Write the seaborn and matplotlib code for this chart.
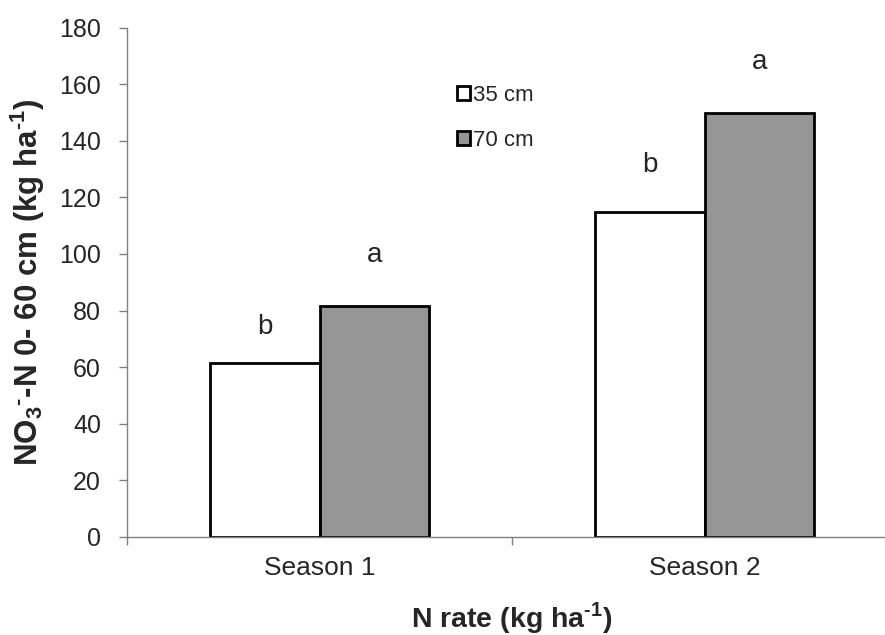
import numpy as np
import pandas as pd
import matplotlib
matplotlib.use("Agg")
import matplotlib.pyplot as plt
import seaborn as sns

seasons = ["Season 1", "Season 2"]
depths = ["35 cm", "70 cm"]
nitrate_35 = [61.5, 114.8]
nitrate_70 = [81.6, 149.8]
letters_35 = ["b", "b"]
letters_70 = ["a", "a"]
letter_y_35 = [74.2, 131.4]
letter_y_70 = [99.6, 167.8]

df = pd.DataFrame({
    "season": seasons * 2,
    "depth": [depths[0]] * 2 + [depths[1]] * 2,
    "value": nitrate_35 + nitrate_70,
})

sns.set_style("white")
plt.rcParams["font.family"] = ["Liberation Sans", "DejaVu Sans"]
# math text only used in the bold axis labels
plt.rcParams["mathtext.fontset"] = "custom"
plt.rcParams["mathtext.rm"] = "Liberation Sans:bold"
plt.rcParams["mathtext.bf"] = "Liberation Sans:bold"

fig = plt.figure(figsize=(8.85, 6.35), dpi=100)
ax = fig.add_axes([127 / 885, 98 / 635, 770 / 885, 509.5 / 635])

bar_width = 0.57
sns.barplot(data=df, x="season", y="value", hue="depth",
            palette={"35 cm": "white", "70 cm": "#969696"},
            edgecolor="black", linewidth=2, width=bar_width, ax=ax)

# significance letters
offset = bar_width / 4
for i in range(len(seasons)):
    ax.text(i - offset, letter_y_35[i], letters_35[i], ha="center", va="center", fontsize=20)
    ax.text(i + offset, letter_y_70[i], letters_70[i], ha="center", va="center", fontsize=20)

ax.set_xlim(-0.5, 1.5)
ax.set_ylim(0, 180)
ax.set_yticks(np.arange(0, 181, 20))
ax.tick_params(axis="y", labelsize=18, length=5.8, width=1, color="#808080", pad=13, left=True)

ax.set_xticks([-0.5, 0.5, 1.5])
ax.set_xticklabels(["", "", ""])
ax.set_xticks([0, 1], minor=True)
ax.set_xticklabels(seasons, minor=True)
ax.tick_params(axis="x", which="major", length=5.8, width=1, color="#808080", bottom=True)
ax.tick_params(axis="x", which="minor", length=0, labelsize=19, pad=14)

for side in ["top", "right"]:
    ax.spines[side].set_visible(False)
for side in ["left", "bottom"]:
    ax.spines[side].set_color("#808080")
    ax.spines[side].set_linewidth(1)

ax.set_xlabel(r"N rate (kg ha$^{\text{-1}}$)", fontsize=20.5, fontweight="bold", labelpad=14)
ax.set_ylabel(r"NO$_{\text{3}}$$^{\text{-}}$-N 0- 60 cm (kg ha$^{\text{-1}}$)", fontsize=22.5,
              fontweight="bold", labelpad=9)

handles, labels = ax.get_legend_handles_labels()
ax.legend(handles, labels, loc="upper left", bbox_to_anchor=(0.428, 0.887), frameon=False,
          fontsize=16, handlelength=0.6, handleheight=0.6, handletextpad=0.15,
          labelspacing=1.08, borderpad=0, borderaxespad=0)

fig.savefig("out.png", dpi=100)
